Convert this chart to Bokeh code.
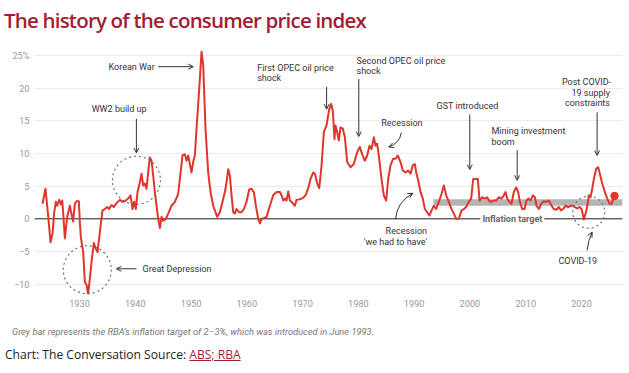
from bokeh.plotting import figure
from bokeh.models import Range1d, FixedTicker, Span, Label, Arrow, OpenHead, Div
from bokeh.layouts import column
from bokeh.embed import file_html
from bokeh.resources import INLINE

# ---------------- data ----------------
years = [
    1923.37, 1923.90, 1924.38, 1924.80, 1925.16, 1925.46, 1925.76, 1926.00, 1926.35, 1926.65,
    1926.90, 1927.07, 1927.37, 1927.79, 1928.27, 1928.45, 1928.86, 1929.16, 1929.46, 1929.88,
    1930.06, 1930.24, 1930.66, 1930.96, 1931.26, 1931.55, 1931.85, 1932.15, 1932.57, 1932.93,
    1933.23, 1933.65, 1934.12, 1934.54, 1934.96, 1935.32, 1935.74, 1936.16, 1936.63, 1937.23,
    1937.71, 1938.13, 1938.73, 1939.15, 1939.50, 1939.80, 1940.10, 1940.40, 1940.82, 1941.12,
    1941.42, 1941.72, 1942.01, 1942.31, 1942.61, 1942.91, 1943.21, 1943.51, 1943.81, 1944.11,
    1944.41, 1944.70, 1945.00, 1945.48, 1945.90, 1946.50, 1947.10, 1947.69, 1947.99, 1948.47,
    1948.89, 1949.19, 1949.49, 1949.78, 1950.08, 1950.38, 1950.68, 1950.98, 1951.46, 1951.88,
    1952.18, 1952.59, 1953.07, 1953.49, 1953.97, 1954.39, 1954.69, 1955.16, 1955.64, 1956.06,
    1956.36, 1956.66, 1956.96, 1957.26, 1957.56, 1957.85, 1958.15, 1958.63, 1959.05, 1959.47,
    1959.95, 1960.42, 1960.84, 1961.26, 1961.62, 1962.04, 1962.34, 1962.64, 1963.06, 1963.54,
    1964.13, 1964.73, 1965.33, 1965.92, 1966.22, 1966.52, 1966.82, 1967.12, 1967.42, 1967.72,
    1968.02, 1968.61, 1968.91, 1969.51, 1970.11, 1970.59, 1971.00, 1971.42, 1971.90, 1972.20,
    1972.62, 1972.98, 1973.40, 1973.81, 1974.29, 1974.77, 1975.12, 1975.41, 1975.71, 1975.89,
    1976.19, 1976.49, 1976.79, 1977.21, 1977.57, 1977.99, 1978.58, 1979.18, 1979.78, 1980.26,
    1980.67, 1981.15, 1981.57, 1981.99, 1982.35, 1982.77, 1983.07, 1983.36, 1983.66, 1984.14,
    1984.56, 1984.98, 1985.34, 1985.76, 1986.23, 1986.65, 1987.07, 1987.55, 1987.97, 1988.45,
    1988.92, 1989.34, 1989.76, 1990.12, 1990.36, 1990.72, 1991.14, 1991.55, 1991.91, 1992.33,
    1992.75, 1993.11, 1993.53, 1993.94, 1994.42, 1994.90, 1995.32, 1995.74, 1996.22, 1996.69,
    1997.11, 1997.53, 1998.01, 1998.49, 1998.91, 1999.32, 1999.80, 2000.22, 2000.58, 2001.00,
    2001.42, 2001.72, 2002.19, 2002.67, 2003.09, 2003.39, 2003.81, 2004.29, 2004.70, 2005.18,
    2005.66, 2006.08, 2006.38, 2006.68, 2007.09, 2007.45, 2007.87, 2008.29, 2008.65, 2008.95,
    2009.37, 2009.79, 2010.14, 2010.44, 2010.86, 2011.28, 2011.64, 2011.94, 2012.36, 2012.77,
    2013.25, 2013.67, 2014.15, 2014.57, 2015.04, 2015.46, 2015.94, 2016.30, 2016.66, 2017.14,
    2017.62, 2018.03, 2018.45, 2018.81, 2019.23, 2019.65, 2020.01, 2020.42, 2020.72, 2021.02,
    2021.32, 2021.62, 2021.92, 2022.22, 2022.64, 2022.99, 2023.29, 2023.71, 2024.19, 2024.61,
    2025.03, 2025.39, 2025.92,
]
cpi = [
    2.3, 4.6, 0.5, -3.6, -2.3, 1.0, 2.6, 2.0, 2.9, 2.2,
    2.8, 1.0, -3.0, 0.3, 2.0, 1.2, -0.4, 2.3, 2.7, 2.7,
    -0.5, -2.8, -5.1, -9.7, -10.1, -11.5, -9.2, -6.6, -3.7, -4.6,
    -5.1, -2.0, 1.3, 1.5, 1.8, 1.5, 2.1, 1.8, 2.4, 2.9,
    2.6, 2.7, 3.1, 3.6, 1.5, 2.6, 1.5, 4.1, 5.6, 6.9,
    5.1, 5.4, 4.6, 7.1, 9.4, 8.9, 6.6, 4.1, 2.0, 0.0,
    -1.4, 0.3, -0.3, 0.0, 0.8, 2.0, 2.6, 3.8, 6.1, 9.7,
    9.9, 8.9, 9.7, 8.4, 7.1, 8.7, 9.7, 13.8, 19.9, 25.6,
    23.5, 13.8, 7.1, 4.1, 2.0, 1.0, 0.3, 1.0, 2.6, 4.1,
    5.6, 7.6, 6.6, 3.6, 1.0, 0.8, 1.5, 1.0, 1.0, 1.5,
    2.6, 4.5, 4.6, 4.1, 2.0, 0.0, -0.7, 0.0, 0.1, 0.3,
    2.0, 3.6, 4.1, 4.1, 3.6, 2.8, 3.1, 2.8, 4.2, 2.8,
    2.6, 2.0, 2.9, 3.0, 3.2, 3.7, 4.7, 6.1, 7.1, 6.9,
    5.4, 4.7, 8.2, 13.3, 14.3, 16.8, 17.6, 16.6, 12.2, 14.3,
    13.3, 12.0, 14.0, 13.8, 12.5, 8.7, 7.9, 8.4, 10.2, 11.0,
    9.9, 8.9, 9.7, 11.2, 10.7, 12.5, 11.2, 11.5, 9.7, 6.1,
    3.6, 2.8, 6.1, 8.2, 9.2, 9.2, 9.7, 8.7, 7.4, 7.1,
    7.4, 6.9, 8.2, 8.4, 7.1, 5.9, 4.1, 3.1, 1.5, 1.0,
    0.5, 1.3, 2.0, 1.5, 2.6, 3.8, 5.1, 3.6, 2.6, 1.5,
    0.8, 0.0, 0.0, 1.3, 1.5, 1.8, 2.6, 3.1, 6.1, 6.1,
    6.1, 2.8, 3.3, 3.1, 3.3, 2.8, 2.6, 2.8, 2.8, 3.3,
    3.1, 3.6, 4.1, 3.1, 2.6, 2.3, 4.1, 4.8, 4.1, 2.6,
    1.5, 1.5, 2.8, 3.1, 2.8, 3.6, 3.3, 2.0, 1.5, 2.3,
    2.7, 2.6, 2.8, 2.1, 1.5, 1.4, 1.8, 1.3, 1.5, 2.0,
    1.8, 2.0, 2.0, 1.8, 1.6, 1.8, 1.5, -0.1, 0.8, 1.8,
    3.6, 3.3, 4.6, 6.1, 7.7, 7.9, 6.9, 5.4, 4.1, 3.1,
    2.3, 2.3, 3.5,
]

target_start = 1993.45   # inflation target introduced June 1993
target_low = 2
target_high = 3

x_ticks = [1930, 1940, 1950, 1960, 1970, 1980, 1990, 2000, 2010, 2020]
y_ticks = [-10, -5, 0, 5, 10, 15, 20, 25]
y_tick_text = {25: "25%", -5: "\u22125", -10: "\u221210"}

X0, X1 = 1921.93, 2027.35
Y0, Y1 = -11.59, 26.39

RED = "#e0352b"
INK = "#333333"
FONT = "Roboto"

# ---------------- figure ----------------
p = figure(width=629, height=282, x_range=Range1d(X0, X1), y_range=Range1d(Y0, Y1),
           output_backend="svg", toolbar_location=None, margin=0,
           min_border_left=34, min_border_right=7, min_border_top=8, min_border_bottom=26)
p.outline_line_color = None
p.xgrid.grid_line_color = None
p.ygrid.grid_line_color = "#ebebeb"
p.ygrid.grid_line_width = 1

p.xaxis.ticker = FixedTicker(ticks=x_ticks)
p.yaxis.ticker = FixedTicker(ticks=y_ticks)
p.yaxis.major_label_overrides = y_tick_text
for ax in (p.xaxis[0], p.yaxis[0]):
    ax.axis_line_color = None
    ax.major_tick_line_color = None
    ax.minor_tick_line_color = None
    ax.major_tick_out = 0
    ax.major_tick_in = 0
    ax.minor_tick_out = 0
    ax.major_label_text_font = FONT
    ax.major_label_text_font_size = "9.2px"
    ax.major_label_text_color = "#999999"
    ax.major_label_standoff = 5

zero = Span(location=0, dimension="width", line_color="#222222", line_width=1, level="underlay")
p.add_layout(zero)

# inflation target band
p.quad(left=[target_start], right=[X1], bottom=[target_low], top=[target_high],
       fill_color="#b4b4b4", line_color=None)

# main series
p.line(years, cpi, line_color=RED, line_width=2, line_join="round")
p.scatter([years[-1]], [cpi[-1]], size=7.5, marker="circle", fill_color=RED, line_color=RED)

# dashed circles
for cx, cy, d in [(1940.2, 5.9, 48), (1931.4, -7.8, 48), (2021.3, 1.0, 32)]:
    p.scatter([cx], [cy], size=d, marker="circle", fill_color=None,
              line_color="#666666", line_width=1.1, line_dash="2 3")


def label(x, y, text, align="left", size="9px", color=INK, style="normal", **kw):
    p.add_layout(Label(x=x, y=y, text=text, text_align=align, text_baseline="middle",
                       text_font=FONT, text_font_size=size, text_color=color,
                       text_font_style=style, **kw))


def arrow(x0, y0, x1, y1):
    p.add_layout(Arrow(x_start=x0, y_start=y0, x_end=x1, y_end=y1,
                       line_color=INK, line_width=1,
                       end=OpenHead(size=5, line_color=INK, line_width=1)))


def curved(x0, y0, cx, cy, x1, y1):
    p.quadratic(x0=[x0], y0=[y0], x1=[x1], y1=[y1], cx=[cx], cy=[cy],
                line_color=INK, line_width=1)
    t = 0.15
    arrow(x1 - t * (x1 - cx), y1 - t * (y1 - cy), x1, y1)


# inflation target label on the baseline
label(2007.6, 0, "Inflation target", align="center", color="#666666", style="bold",
      background_fill_color="white", padding=2)

# annotations
label(1943.5, 23.3, "Korean War", align="right")
arrow(1944.1, 23.3, 1950.4, 23.3)

label(1937.1, 16.8, "WW2 build up", align="center")
arrow(1940.2, 15.3, 1940.2, 10.1)

label(1941.3, -7.65, "Great Depression")
arrow(1940.2, -7.65, 1936.6, -7.65)

label(1961.85, 23.06, "First OPEC oil price")
label(1961.85, 21.5, "shock")
arrow(1974.3, 20.2, 1974.3, 16.8)

label(1979.66, 24.2, "Second OPEC oil price")
label(1979.66, 22.7, "shock")
arrow(1980.07, 21.4, 1980.07, 12.6)

label(1987.8, 14.6, "Recession", align="center")
curved(1987.7, 13.2, 1987.4, 11.6, 1985.45, 11.0)

label(1992.3, -1.9, "Recession", align="right")
label(1992.3, -3.6, "'we had to have'", align="right")
curved(1986.65, -0.1, 1986.9, 2.6, 1989.76, 3.9)

label(1999.56, 17.35, "GST introduced", align="center")
arrow(1999.97, 16.0, 1999.97, 7.55)

label(2003.86, 13.4, "Mining investment")
label(2003.86, 11.7, "boom")
arrow(2008.47, 10.5, 2008.47, 5.9)

label(2025.3, 21.0, "Post COVID-", align="right")
label(2025.1, 19.3, "19 supply", align="right")
label(2025.1, 17.7, "constraints", align="right")
arrow(2022.8, 16.3, 2022.8, 9.7)

label(2019.33, -6.5, "COVID-19", align="center")
curved(2021.0, -4.85, 2021.2, -3.2, 2021.9, -2.05)

# ---------------- text blocks ----------------
title = Div(width=629, height=38, margin=0, text=(
    '<div style="font-family:\'Open Sans\';font-weight:600;font-size:20.5px;color:#a11d33;'
    'letter-spacing:-0.8px;padding-top:5px;margin-left:4px;line-height:30px;white-space:nowrap">'
    'The history of the consumer price index</div>'))

caption = Div(width=629, height=24, margin=0, text=(
    '<div style="font-family:Roboto;font-style:italic;font-size:9.3px;color:#777777;'
    'margin-left:12px;line-height:24px;white-space:nowrap">'
    "Grey bar represents the RBA\u2019s inflation target of 2\u20133%, which was introduced in June 1993."
    '</div>'))

source = Div(width=629, height=22, margin=0, text=(
    '<div style="font-family:\'Open Sans\';font-size:12.1px;color:#222222;'
    'margin-left:5px;line-height:22px;white-space:nowrap">'
    'Chart: The Conversation Source: '
    '<a href="#" style="color:#a11d33;text-decoration:underline">ABS; RBA</a></div>'))

layout = column(title, p, caption, source, spacing=0, margin=0)

open("out.html", "w").write(file_html(layout, INLINE))
